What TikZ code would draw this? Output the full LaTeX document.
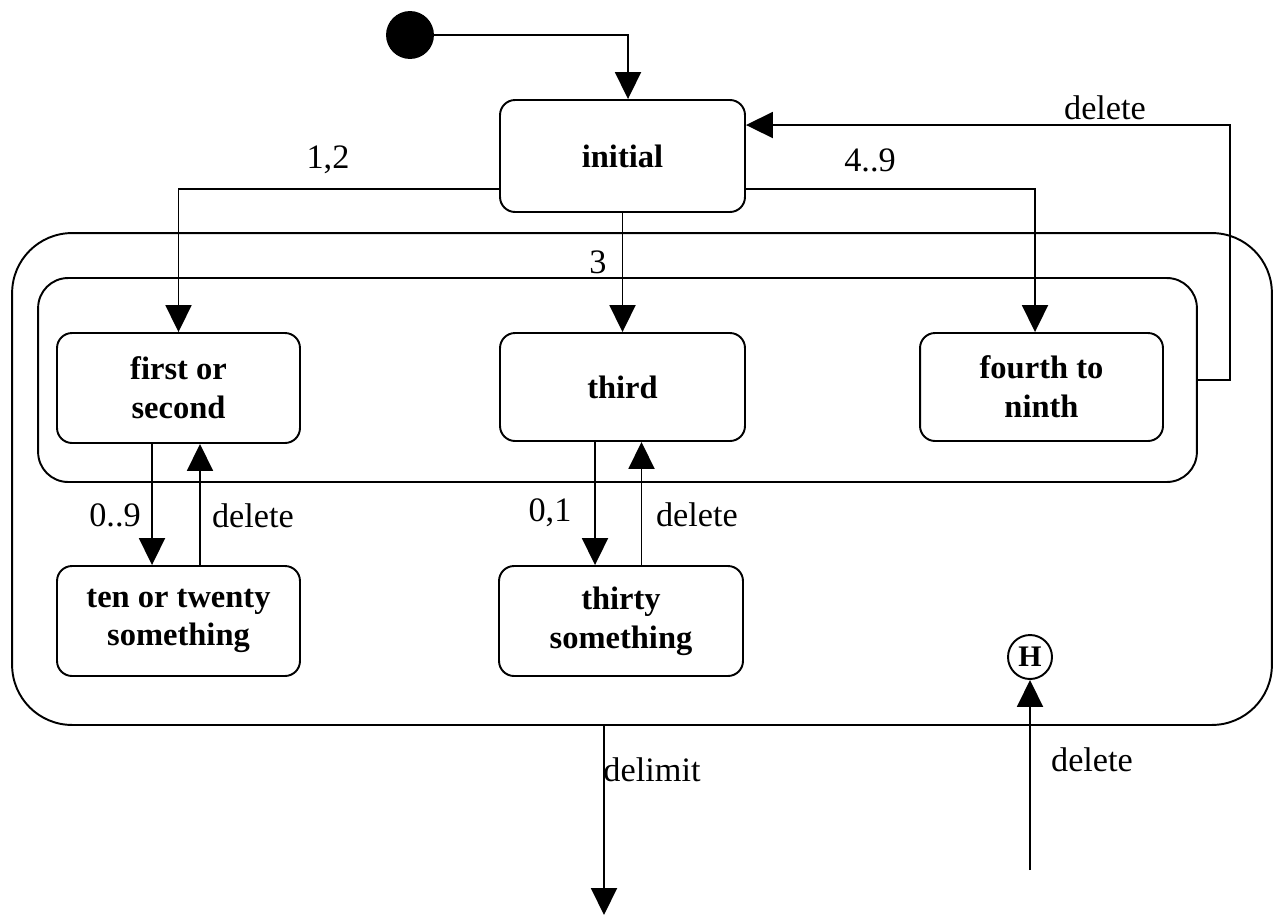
\documentclass[tikz,border=0pt]{standalone}
\usepackage{fontspec}
\setmainfont{Liberation Serif}
\usetikzlibrary{arrows.meta}
\begin{document}
\begin{tikzpicture}[x=0.02cm,y=-0.02cm,
  line width=1.1pt,
  arr/.style={-{Triangle[width=0.52cm,length=0.54cm]}},
  state/.style={draw,rounded corners=0.3cm,align=center,font=\fontsize{18.5}{22}\selectfont\bfseries},
  lbl/.style={font=\fontsize{19.5}{23}\selectfont,inner sep=0pt}]
\useasboundingbox (0,0) rectangle (1274,917);
% containers
\node[draw,rounded corners=1.2cm,minimum width=25.2cm,minimum height=9.84cm,inner sep=0pt] (outer) at (642,479) {};
\node[draw,rounded corners=0.6cm,minimum width=23.18cm,minimum height=4.08cm,inner sep=0pt] (inner) at (617.5,380) {};
% states
\node[state,minimum width=4.9cm,minimum height=2.24cm] (init) at (622.5,156) {initial};
\node[state,minimum width=4.86cm,minimum height=2.2cm] (first) at (178.5,388) {first or\\second};
\node[state,minimum width=4.9cm,minimum height=2.16cm] (third) at (622.5,387) {third};
\node[state,minimum width=4.86cm,minimum height=2.16cm] (fourth) at (1041.5,387) {fourth to\\ninth};
\node[state,minimum width=4.86cm,minimum height=2.2cm] (ten) at (178.5,621) {ten or twenty\\something};
\node[state,minimum width=4.88cm,minimum height=2.2cm] (thirty) at (621,621) {thirty\\something};
\node[draw,circle,minimum size=0.88cm,inner sep=0pt,font=\fontsize{17}{20}\selectfont\bfseries] (H) at (1030,657) {H};
\node[draw,fill=black,circle,minimum size=0.92cm,inner sep=0pt] (dot) at (410,35) {};
% free ends
\coordinate (rt) at (1230,125);
\coordinate (dend) at (604,915);
\coordinate (hs) at (1030,870);
% connectors
\draw[arr] (dot.east) -| ([xshift=0.11cm]init.north);
\draw[arr] ([yshift=-0.66cm]init.west) -| (first.north);
\draw[arr] ([yshift=-0.66cm]init.east) -| ([xshift=-0.13cm]fourth.north);
\draw[arr] (init.south) -- (third.north);
\draw[arr] (inner.east) -| (rt) -- ([yshift=0.62cm]init.east);
\draw[arr] ([xshift=-0.53cm]first.south) -- ([xshift=-0.53cm]first.south |- ten.north);
\draw[arr] ([xshift=0.43cm]ten.north) -- ([xshift=0.43cm]ten.north |- first.south);
\draw[arr] ([xshift=-0.55cm]third.south) -- ([xshift=-0.55cm]third.south |- thirty.north);
\draw[arr] ([xshift=0.41cm]thirty.north) -- ([xshift=0.41cm]thirty.north |- third.south);
\draw[arr] (dend |- outer.south) -- (dend);
\draw[arr] (hs) -- (H.south);
% labels
\node[lbl] (l12) at (328,160) {1,2};
\node[lbl] (l49) at (870,160) {4..9};
\node[lbl] (l3) at (598,262) {3};
\node[lbl] (ldel1) at (1105,108) {delete};
\node[lbl] (l09) at (115,515) {0..9};
\node[lbl] (ldel2) at (253,516) {delete};
\node[lbl] (l01) at (550,513) {0,1};
\node[lbl] (ldel3) at (697,515) {delete};
\node[lbl] (ldelim) at (652,770) {delimit};
\node[lbl] (ldel4) at (1092,760) {delete};
\end{tikzpicture}
\end{document}
